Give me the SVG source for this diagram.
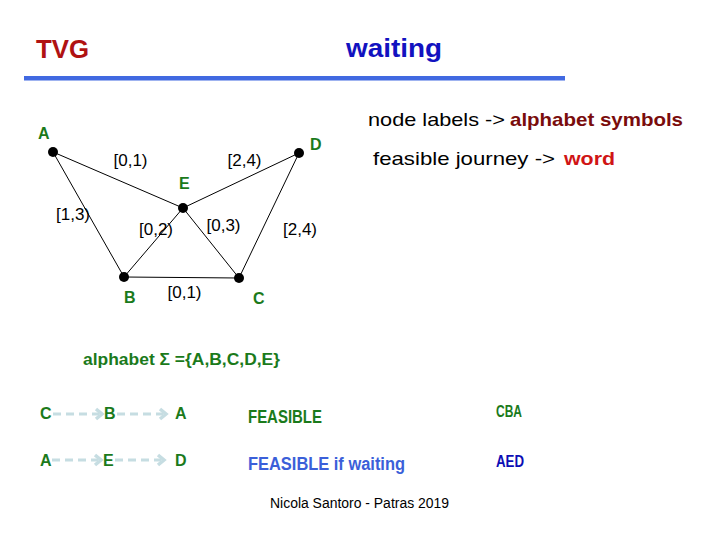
<svg xmlns="http://www.w3.org/2000/svg" width="720" height="540" viewBox="0 0 720 540">
<style>
text{font-family:"Liberation Sans",Arial,sans-serif}
.b{font-weight:bold}
.g{fill:#1b7a1b;font-weight:bold}
.edge{stroke:#000;stroke-width:1;fill:none}
.el{font-size:17px;fill:#000;text-anchor:middle}
.nl{font-size:16px}
.dash{stroke:#c6dde2;stroke-width:3;stroke-dasharray:8 5;fill:none}
.chev{stroke:#c6dde2;stroke-width:3.5;fill:none;stroke-linejoin:miter}
</style>
<rect width="720" height="540" fill="#fff"/>
<text x="36" y="58" class="b" font-size="26" fill="#b01212" textLength="53" lengthAdjust="spacingAndGlyphs">TVG</text>
<text x="346" y="57" class="b" font-size="26" fill="#1212c0" textLength="96" lengthAdjust="spacingAndGlyphs">waiting</text>
<rect x="24" y="76" width="541" height="4.5" fill="#4169e1"/>

<g id="connectors">
<line class="edge" x1="53" y1="152" x2="183" y2="208"/>
<line class="edge" x1="183" y1="208" x2="299" y2="153"/>
<line class="edge" x1="53" y1="152" x2="124" y2="277"/>
<line class="edge" x1="183" y1="208" x2="124" y2="277"/>
<line class="edge" x1="183" y1="208" x2="239" y2="278"/>
<line class="edge" x1="124" y1="277" x2="239" y2="278"/>
<line class="edge" x1="299" y1="153" x2="239" y2="278"/>
<text class="el" x="130.5" y="166">[0,1)</text>
<text class="el" x="244.5" y="166">[2,4)</text>
<text class="el" x="73" y="220">[1,3)</text>
<text class="el" x="156" y="235">[0,2)</text>
<text class="el" x="223.5" y="231">[0,3)</text>
<text class="el" x="300" y="235">[2,4)</text>
<text class="el" x="184.5" y="298">[0,1)</text>
</g>

<g id="node-A"><circle cx="53" cy="152" r="5"/><text class="g nl" x="38" y="139">A</text></g>
<g id="node-D"><circle cx="299" cy="153" r="5"/><text class="g nl" x="310" y="150">D</text></g>
<g id="node-E"><circle cx="183" cy="208" r="5"/><text class="g nl" x="179" y="189">E</text></g>
<g id="node-B"><circle cx="124" cy="277" r="5"/><text class="g nl" x="124" y="303">B</text></g>
<g id="node-C"><circle cx="239" cy="278" r="5"/><text class="g nl" x="253" y="304">C</text></g>

<g id="legend">
<text x="368" y="126" font-size="19" fill="#000" textLength="137" lengthAdjust="spacingAndGlyphs">node labels -&gt;</text>
<text x="510" y="126" class="b" font-size="19" fill="#7a0c0c" textLength="173" lengthAdjust="spacingAndGlyphs">alphabet symbols</text>
<text x="373" y="165" font-size="19" fill="#000" textLength="182" lengthAdjust="spacingAndGlyphs">feasible journey -&gt;</text>
<text x="564" y="165" class="b" font-size="19" fill="#d01515" textLength="51" lengthAdjust="spacingAndGlyphs">word</text>
</g>

<text x="83" y="365" class="g" font-size="17" textLength="197" lengthAdjust="spacingAndGlyphs">alphabet  Σ ={A,B,C,D,E}</text>

<g id="word-CBA">
<text x="40" y="419" class="g" font-size="16">C</text>
<path class="dash" d="M53 414H99"/>
<polyline class="chev" points="96,409 102,414 96,419"/>
<text x="104" y="419" class="g" font-size="16">B</text>
<path class="dash" d="M117 414H163"/>
<polyline class="chev" points="160,409 166,414 160,419"/>
<text x="175" y="419" class="g" font-size="16">A</text>
</g>
<g id="word-AED">
<text x="40" y="466" class="g" font-size="16">A</text>
<path class="dash" d="M52 460H98"/>
<polyline class="chev" points="95,455 101,460 95,465"/>
<text x="103" y="466" class="g" font-size="16">E</text>
<path class="dash" d="M115 460H161"/>
<polyline class="chev" points="158,455 164,460 158,465"/>
<text x="175" y="466" class="g" font-size="16">D</text>
</g>

<text x="248" y="423" class="g" font-size="18" textLength="74" lengthAdjust="spacingAndGlyphs">FEASIBLE</text>
<text x="248" y="470" class="b" font-size="18" fill="#3b5fd9" textLength="157" lengthAdjust="spacingAndGlyphs">FEASIBLE if waiting</text>
<text x="496" y="417" class="g" font-size="17" textLength="26" lengthAdjust="spacingAndGlyphs">CBA</text>
<text x="496" y="467" class="b" font-size="17" fill="#0d0db5" textLength="28" lengthAdjust="spacingAndGlyphs">AED</text>
<text x="270" y="508" font-size="14" fill="#000" textLength="179" lengthAdjust="spacingAndGlyphs">Nicola Santoro - Patras 2019</text>
</svg>
